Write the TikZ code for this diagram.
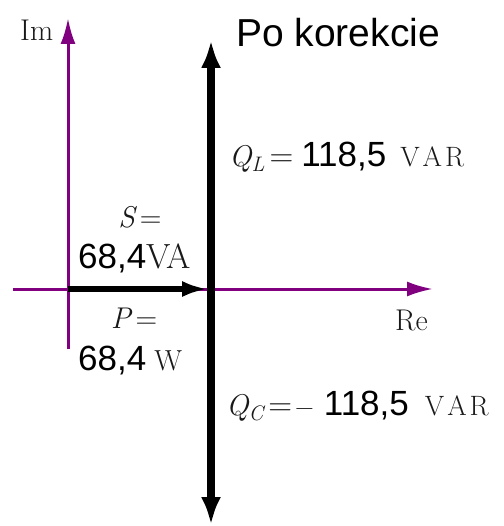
\documentclass[tikz,border=0pt]{standalone}
\usepackage{fontspec}
\newfontfamily\arialf{Liberation Sans}
\usetikzlibrary{arrows.meta}
\definecolor{axpurple}{RGB}{128,0,128}
\definecolor{txtgray}{RGB}{25,25,25}
\newcommand{\qsym}[1]{{\itshape Q}\raisebox{-5pt}{\fontsize{21}{21}\selectfont\itshape #1}}
\newcommand{\varunit}{{\fontsize{28}{28}\selectfont V\hspace{3pt}A\hspace{3pt}R}}
\newcommand{\numf}[1]{{\arialf\fontsize{35}{35}\selectfont\color{black}#1}}
\newcommand{\eqs}{{\fontsize{33}{33}\selectfont =}}
\begin{document}
\begin{tikzpicture}[x=1pt,y=-1pt,
  axis/.style={draw=axpurple,line width=3pt,-{Latex[length=26pt,width=15pt]}},
  phasor/.style={draw=black,line width=6pt,-{Latex[length=26pt,width=16pt]}},
  qphasor/.style={draw=black,line width=7.5pt,{Latex[length=28pt,width=20pt]}-{Latex[length=28pt,width=20pt]}},
  lbl/.style={inner sep=0pt,text=txtgray,font=\fontsize{30}{30}\selectfont}]
\useasboundingbox (0,0) rectangle (503,526);
% axes
\coordinate (reS) at (13,289); \coordinate (reE) at (433,289);
\coordinate (imS) at (68,349); \coordinate (imE) at (68,18);
\coordinate (O) at (68,289);
\coordinate (qTop) at (211,40); \coordinate (qBot) at (211,525);
\coordinate (pEnd) at (208,289);
\draw[axis] (reS) -- (reE);
\draw[axis] (imS) -- (imE);
\draw[phasor] (O) -- (pEnd);
\draw[qphasor] (qBot) -- (qTop);
% labels
\node[lbl,anchor=base west] (im) at (20,41) {Im};
\node[lbl,anchor=base west] (re) at (395,330) {Re};
\node[inner sep=0pt,anchor=base west,font=\arialf\fontsize{39}{39}\selectfont] (title) at (236,47) {Po korekcie};
\node[lbl,anchor=base west] (qL) at (229,167) {\qsym{L}\hspace{5pt}\eqs\hspace{8pt}\numf{118,5}\hspace{14pt}\varunit};
\node[lbl,anchor=base west] (qC) at (226,415) {\qsym{C}\hspace{5pt}\eqs\hspace{3pt}{\fontsize{26}{26}\selectfont −}\hspace{10pt}\numf{118,5}\hspace{16pt}\varunit};
\node[lbl,anchor=base] (s) at (140,228) {{\itshape S}\hspace{5pt}=};
\node[lbl,anchor=base west] (sv) at (78,268) {\numf{68,4}{\fontsize{35}{35}\selectfont VA}};
\node[lbl,anchor=base] (p) at (134,328) {{\itshape P}\hspace{5pt}=};
\node[lbl,anchor=base west] (pv) at (78,370) {\numf{68,4}\hspace{8pt}{\fontsize{29}{29}\selectfont W}};
\end{tikzpicture}
\end{document}
